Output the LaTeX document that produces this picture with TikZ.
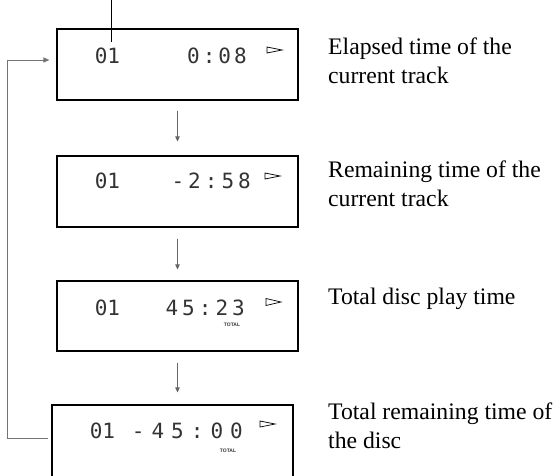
\documentclass[tikz,border=0pt]{standalone}
\usepackage{fontspec}
\setmainfont{Liberation Serif}
\newfontfamily\lcdfont{DejaVu Sans Mono}
\newfontfamily\lblfont{Liberation Sans}
\usetikzlibrary{arrows.meta,calc}
\begin{document}
\begin{tikzpicture}[x=1pt,y=-1pt,
  lcdbox/.style={draw=black,line width=1.1pt,minimum width=241pt,inner sep=0pt},
  lcdtext/.style={inner sep=0pt,font=\lcdfont\fontsize{21}{21}\selectfont,text=black!80},
  desc/.style={inner sep=0pt,anchor=base west,align=left,font=\fontsize{23.7}{29}\selectfont},
  flow/.style={draw=black!60,line width=0.8pt,-{Triangle[length=5pt,width=4.5pt]}},
  loopline/.style={draw=black!55,line width=1pt,-{Triangle[length=6pt,width=5pt]}},
  totallbl/.style={inner sep=0pt,font=\lblfont\bfseries\fontsize{5}{5}\selectfont,text=black!80},
  playtri/.style={draw=black,line width=0.7pt,line join=miter}]

\useasboundingbox (0,0) rectangle (558,475);

% display boxes
\node[lcdbox,minimum height=71pt] (b1) at (177.5,64.5) {};
\node[lcdbox,minimum height=71pt] (b2) at (177.5,191.5) {};
\node[lcdbox,minimum height=70pt] (b3) at (177.5,316) {};
\node[lcdbox,minimum height=90pt] (b4) at (172.5,450) {};

% pointer line at top
\coordinate (ptop) at (111,0);
\draw[line width=0.9pt] (ptop) -- ++(0,42);

% display contents
\node[lcdtext,anchor=base] (t1a) at (107.5,63) {01};
\node[lcdtext,anchor=base east] (t1b) at (247,63) {0\kern3pt:\kern3pt0\kern3pt8};
\draw[playtri] (267,47) -- (282,50) -- (267,53) -- cycle;

\node[lcdtext,anchor=base] (t2a) at (107.5,188) {01};
\node[lcdtext,anchor=base east] (t2b) at (251,188) {-\kern4pt2\kern4pt:\kern4pt5\kern4pt8};
\draw[playtri] (265,173) -- (280,176) -- (265,179) -- cycle;

\node[lcdtext,anchor=base] (t3a) at (107.5,315) {01};
\node[lcdtext,anchor=base east] (t3b) at (245,315) {4\kern4pt5\kern4pt:\kern4pt2\kern4pt3};
\node[totallbl] (tot3) at (232,325) {TOTAL};
\draw[playtri] (266,298.5) -- (281,302) -- (266,305.5) -- cycle;

\node[lcdtext,anchor=base] (t4a) at (102.5,438) {01};
\node[lcdtext,anchor=base east] (t4b) at (243,438) {-\kern7pt4\kern7pt5\kern7pt:\kern7pt0\kern7pt0};
\node[totallbl] (tot4) at (228,451) {TOTAL};
\draw[playtri] (260,421) -- (275,424) -- (260,427) -- cycle;

% flow arrows
\draw[flow] ([yshift=-10pt]b1.south) -- ([yshift=14pt]b2.north);
\draw[flow] ([yshift=-11pt]b2.south) -- ([yshift=11pt]b3.north);
\draw[flow] ([yshift=-11pt]b3.south) -- ($(b3.south |- b4.north)+(0,-12)$);

% return loop
\draw[loopline] ($(b4.north west)+(-3,34)$) -- ++(-41,0) |- ($(b1.west)+(-7,-4.5)$);

% descriptions (base anchor = baseline of last line)
\node[desc] (d1) at (328,83) {Elapsed time of the\\current track};
\node[desc] (d2) at (328,206) {Remaining time of the\\current track};
\node[desc] (d3) at (328,304) {Total disc play time};
\node[desc] (d4) at (328,448) {Total remaining time of\\the disc};
\end{tikzpicture}
\end{document}
